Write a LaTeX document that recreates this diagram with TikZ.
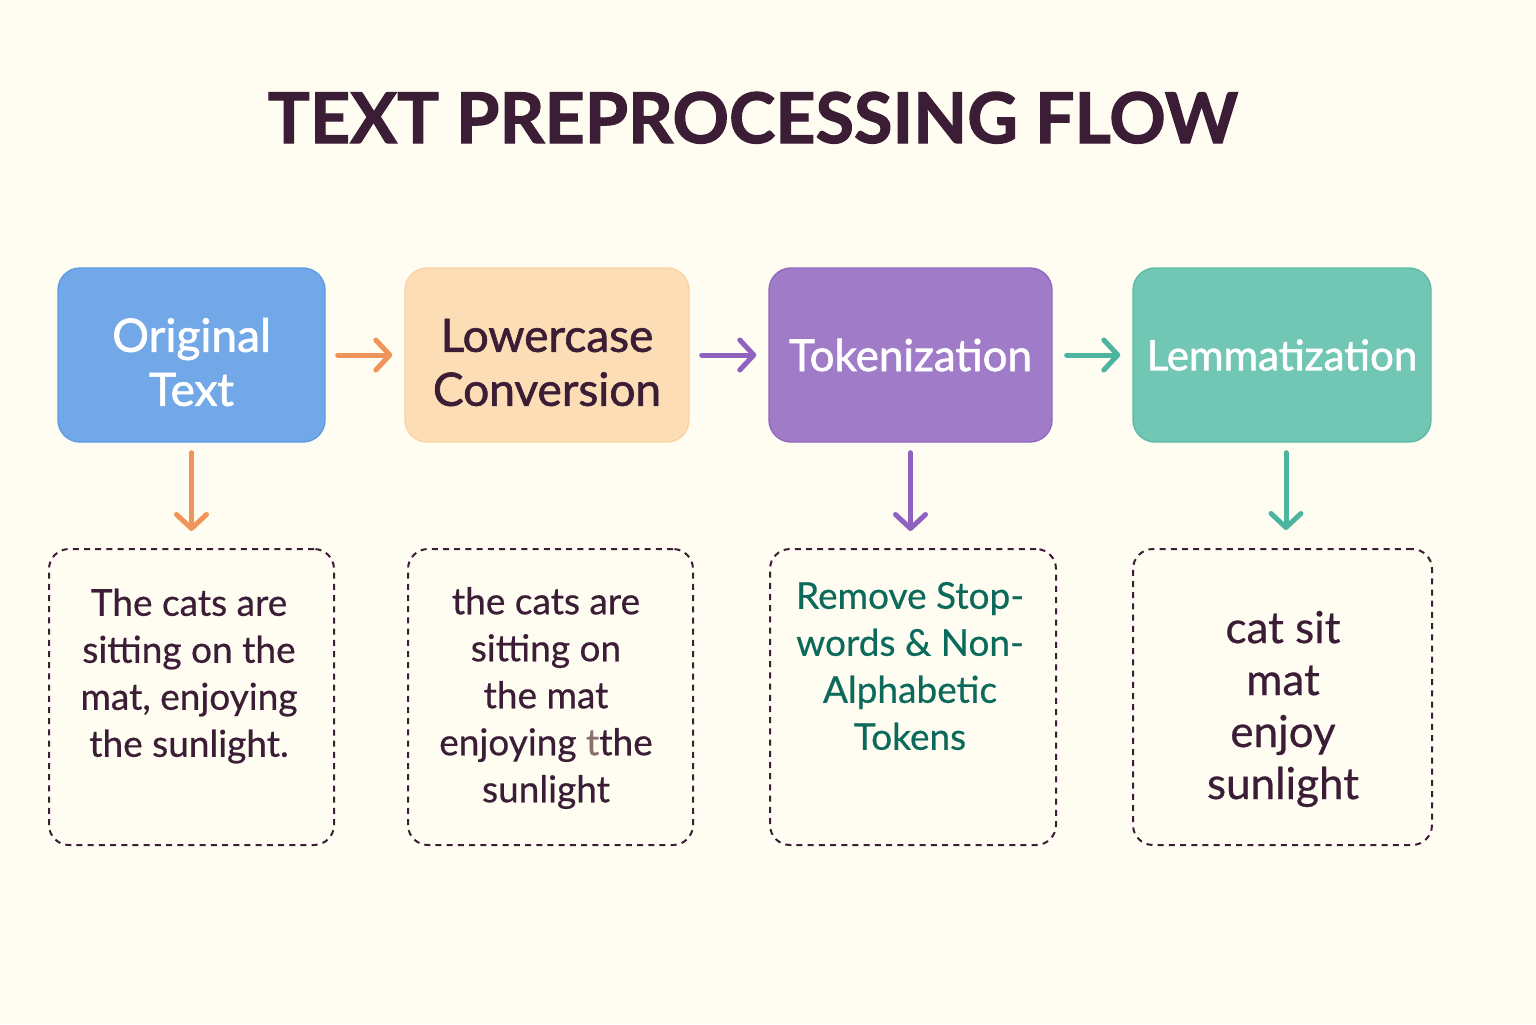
\documentclass[tikz,border=0pt]{standalone}
\usepackage{fontspec}
\setmainfont{Lato}
\newfontfamily\titlefont{Lato}[BoldFeatures={FakeBold=1.6}]
\newfontfamily\stagefont{Lato}[FakeBold=1.4]
\newfontfamily\notefont{Lato}[FakeBold=0.5]
\usetikzlibrary{arrows.meta}

\definecolor{bgcream}{HTML}{FFFCF2}
\definecolor{inkdark}{HTML}{3B1E35}
\definecolor{inkgreen}{HTML}{0B6A5A}
\definecolor{inkfaint}{HTML}{8C6F6C}
\definecolor{blueA}{HTML}{72A8E8}
\definecolor{blueB}{HTML}{5E9AE6}
\definecolor{peachA}{HTML}{FDDDB6}
\definecolor{peachB}{HTML}{FBD3A6}
\definecolor{purpA}{HTML}{A07CC8}
\definecolor{purpB}{HTML}{9069C0}
\definecolor{tealA}{HTML}{72C6B4}
\definecolor{tealB}{HTML}{5DBBA6}
\definecolor{orangeArr}{HTML}{F0955A}
\definecolor{purpArr}{HTML}{8E62BE}
\definecolor{tealArr}{HTML}{4DB59E}

\begin{document}
\begin{tikzpicture}[x=0.5pt,y=-0.5pt,
  stage/.style={rounded corners=11pt, minimum height=87pt, align=center,
    line width=0.7pt, font=\stagefont\fontsize{23}{27}\selectfont},
  note/.style={draw=inkdark, dash pattern=on 3pt off 2.6pt, line width=1pt,
    rounded corners=10pt, minimum height=148pt},
  notetext/.style={align=center, text=inkdark, font=\notefont\fontsize{18.5}{23.5}\selectfont},
  flow/.style={line width=2.5pt, line cap=round,
    -{Straight Barb[length=7pt,width=15pt,round]}}]

% background
\fill[bgcream] (0,0) rectangle (1536,1024);

% title
\node[anchor=base, text=inkdark, font=\titlefont\bfseries\fontsize{35}{40}\selectfont] (title) at (753,143) {TEXT PREPROCESSING FLOW};

% stages
\node[stage, fill=blueA, draw=blueB, text=white, minimum width=133.5pt] (orig) at (191.5,355) {\raisebox{-6.5pt}[\height][\depth]{\begin{tabular}{@{}c@{}}Original\\Text\end{tabular}}};
\node[stage, fill=peachA, draw=peachB, text=inkdark, minimum width=142pt] (lower) at (547,355) {\raisebox{-6.5pt}[\height][\depth]{\begin{tabular}{@{}c@{}}Lowercase\\Conversion\end{tabular}}};
\node[stage, fill=purpA, draw=purpB, text=white, minimum width=141.5pt, font=\stagefont\fontsize{22}{27}\selectfont] (tok) at (910.5,355) {Tokenization};
\node[stage, fill=tealA, draw=tealB, text=white, minimum width=149pt, font=\stagefont\fontsize{21}{27}\selectfont] (lemma) at (1282,355) {Lemmatization};

% notes
\node[note, minimum width=142.5pt] (origNote) at (191.5,697) {};
\node[note, minimum width=142.5pt] (lowerNote) at (550.5,697) {};
\node[note, minimum width=143pt] (tokNote) at (913,697) {};
\node[note, minimum width=149.5pt] (lemmaNote) at (1282.5,697) {};

\node[notetext] (origText) at (189,676) {The cats are\\sitting on the\\mat, enjoying\\the sunlight.};
\node[notetext] (lowerText) at (546,698) {the cats are\\sitting on\\the mat\\enjoying {\color{inkfaint}t}the\\sunlight};
\node[notetext, text=inkgreen] (tokText) at (910,666) {Remove Stop-\\words \& Non-\\Alphabetic\\Tokens};
\node[notetext, font=\notefont\fontsize{22}{26}\selectfont] (lemmaText) at (1283,709) {cat sit\\mat\\enjoy\\sunlight};

% arrows
\draw[flow, orangeArr, shorten <=6pt, shorten >=6pt] (orig) -- (lower);
\draw[flow, purpArr, shorten <=6pt, shorten >=6pt] (lower) -- (tok);
\draw[flow, tealArr, shorten <=7pt, shorten >=6pt] (tok) -- (lemma);
\draw[flow, orangeArr, shorten <=5pt, shorten >=8.5pt] (orig.south) -- (orig.south |- origNote.north);
\draw[flow, purpArr, shorten <=5pt, shorten >=8.5pt] (tok.south) -- (tok.south |- tokNote.north);
\draw[flow, tealArr, shorten <=5pt, shorten >=9pt] ([xshift=2pt]lemma.south) -- ([xshift=2pt]lemma.south |- lemmaNote.north);
\end{tikzpicture}
\end{document}
